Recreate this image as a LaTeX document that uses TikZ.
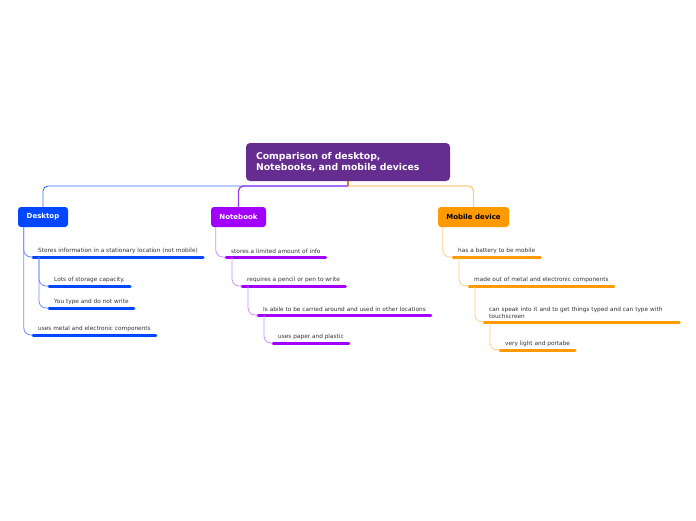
\documentclass[tikz,border=0pt]{standalone}
\usepackage{fontspec}
\setmainfont{DejaVu Sans}
\begin{document}
\begin{tikzpicture}[x=1pt,y=-1pt]
\definecolor{rootC}{RGB}{102,45,145}
\definecolor{deskC}{RGB}{0,71,255}
\definecolor{deskL}{RGB}{110,140,255}
\definecolor{noteC}{RGB}{161,0,255}
\definecolor{noteL}{RGB}{208,140,255}
\definecolor{noteM}{RGB}{150,60,245}
\definecolor{mobC}{RGB}{255,153,0}
\definecolor{mobL}{RGB}{255,205,130}
\definecolor{txtC}{RGB}{51,51,51}
\tikzset{
  mainbox/.style={rectangle, rounded corners=3pt, inner sep=0pt, font=\fontsize{7}{8}\selectfont\bfseries, minimum height=20pt},
  leaf/.style={anchor=south west, inner xsep=5pt, inner ysep=3pt, text=txtC, font=\fontsize{5.8}{7.2}\selectfont, align=left},
  uline/.style={line width=3pt, line cap=round},
  branch/.style={line width=0.8pt, rounded corners=7pt},
}
\useasboundingbox (0,0) rectangle (696,520);

% root
\node[rectangle, rounded corners=4pt, fill=rootC, text=white, minimum width=204pt, minimum height=38pt,
      font=\fontsize{9.3}{11}\selectfont\bfseries, align=left, text width=184pt, inner xsep=10pt] (root) at (348,162)
  {Comparison of desktop,\\Notebooks, and mobile devices};

% main branches
\node[mainbox, fill=deskC, text=white, minimum width=50pt] (desk) at (43,217) {Desktop};
\node[mainbox, fill=noteC, text=white, minimum width=55pt] (note) at (238.5,217) {Notebook};
\node[mainbox, fill=mobC, text=black, minimum width=71pt] (mob) at (473.5,217) {Mobile device};

\coordinate (j) at (348,186);
\draw[deskC!80, line width=0.9pt, rounded corners=5pt] (j) -| (desk.north);
\draw[noteM, line width=1.3pt, rounded corners=5pt] (j) -| (note.north);
\draw[mobL, line width=1.3pt, rounded corners=5pt] (j) -| (mob.north);
\draw[mobC!70!rootC, line width=1.2pt] (root.south) -- (j);

% Desktop leaves
\node[leaf] (d1) at (33,257) {Stores information in a stationary location (not mobile)};
\node[leaf] (d11) at (49,286) {Lots of storage capacity.};
\node[leaf] (d12) at (49,308) {You type and do not write};
\node[leaf] (d2) at (33,335) {uses metal and electronic components};
\foreach \n in {d1,d11,d12,d2} \draw[uline, deskC] (\n.south west) -- (\n.south east);
\draw[branch, deskL] ([xshift=6pt]desk.south west) |- (d1.south west);
\draw[branch, deskL] ([xshift=6pt]desk.south west) |- (d2.south west);
\draw[branch, deskL] ([xshift=6pt]d1.south west) |- (d11.south west);
\draw[branch, deskL] ([xshift=6pt]d1.south west) |- (d12.south west);

% Notebook leaves
\node[leaf] (n1) at (226,257) {stores a limited amount of info};
\node[leaf] (n2) at (242,286) {requires a pencil or pen to write};
\node[leaf] (n3) at (258,315) {Is abile to be carried around and used in other locations};
\node[leaf] (n4) at (273,343) {uses paper and plastic};
\foreach \n in {n1,n2,n3,n4} \draw[uline, noteC] (\n.south west) -- (\n.south east);
\draw[branch, noteL] ([xshift=5pt]note.south west) |- (n1.south west);
\draw[branch, noteL] ([xshift=6pt]n1.south west) |- (n2.south west);
\draw[branch, noteL] ([xshift=6pt]n2.south west) |- (n3.south west);
\draw[branch, noteL] ([xshift=6pt]n3.south west) |- (n4.south west);

% Mobile leaves
\node[leaf] (m1) at (453,257) {has a battery to be mobile};
\node[leaf] (m2) at (469,286) {made out of metal and electronic components};
\node[leaf, text width=185pt] (m3) at (484,322) {can speak into it and to get things typed and can type with\\touchscreen};
\node[leaf] (m4) at (500,350) {very light and portabe};
\foreach \n in {m1,m2,m3,m4} \draw[uline, mobC] (\n.south west) -- (\n.south east);
\draw[branch, mobL] ([xshift=5pt]mob.south west) |- (m1.south west);
\draw[branch, mobL] ([xshift=6pt]m1.south west) |- (m2.south west);
\draw[branch, mobL] ([xshift=6pt]m2.south west) |- (m3.south west);
\draw[branch, mobL] ([xshift=6pt]m3.south west) |- (m4.south west);
\end{tikzpicture}
\end{document}
